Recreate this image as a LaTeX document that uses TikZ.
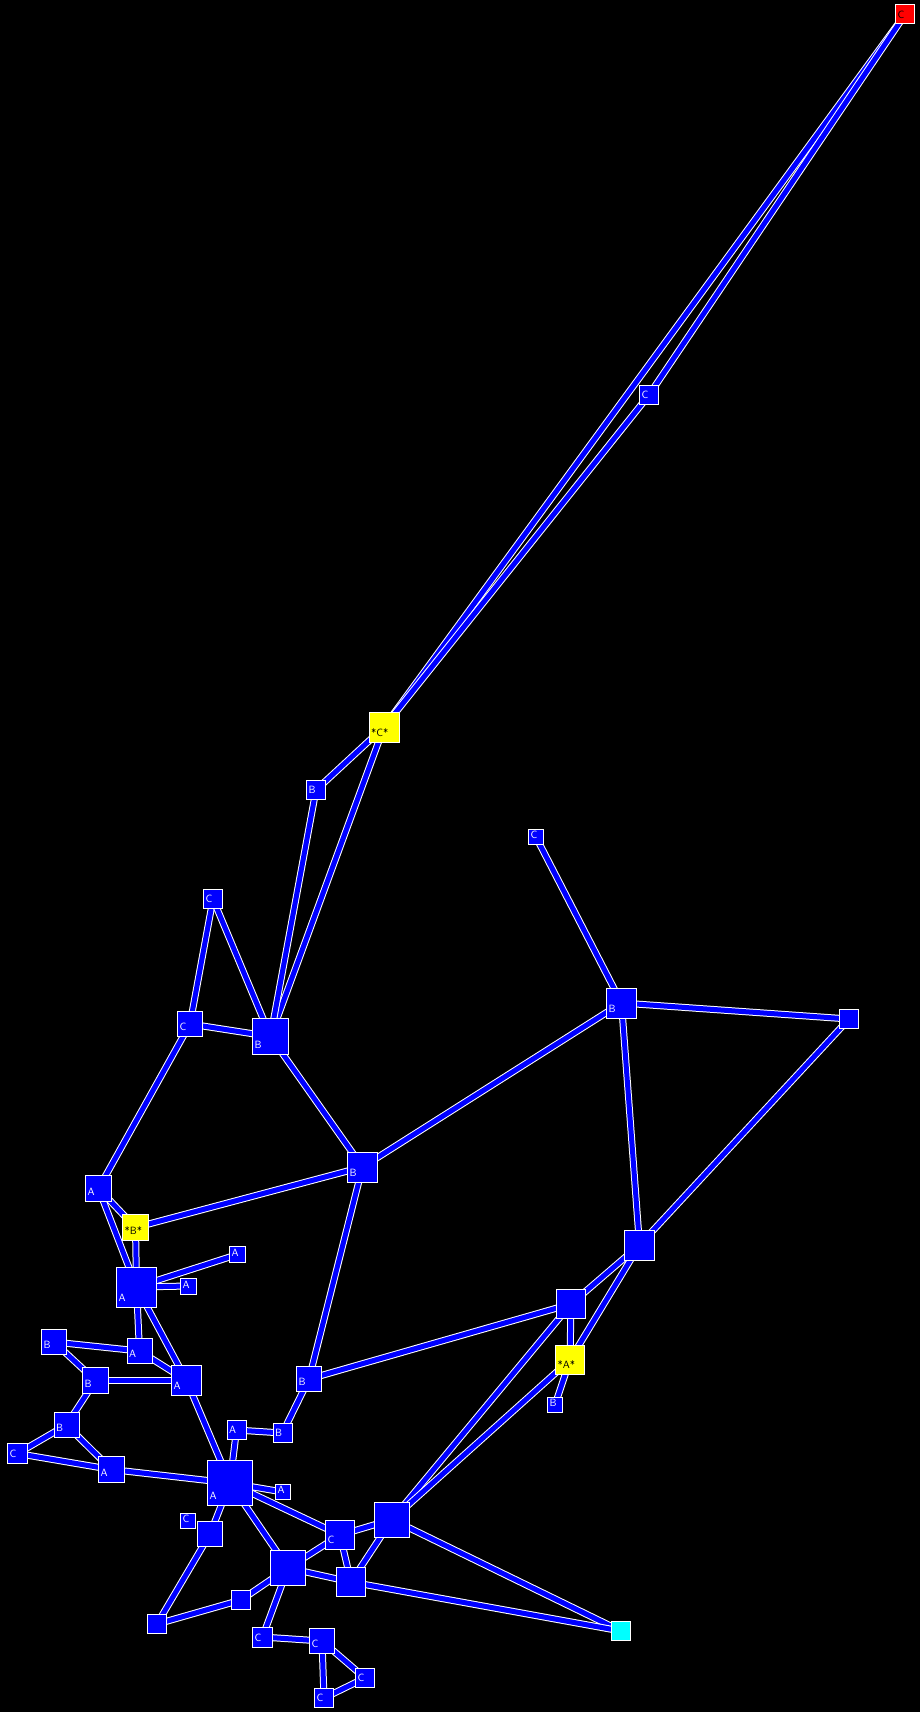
\documentclass[tikz,border=0pt]{standalone}
\usetikzlibrary{backgrounds}
\pgfdeclarelayer{edges}
\pgfsetlayers{background,edges,main}
\definecolor{vblue}{rgb}{0,0,1}
\definecolor{vyellow}{rgb}{1,1,0}
\definecolor{vred}{rgb}{1,0,0}
\definecolor{vcyan}{rgb}{0,1,1}

\begin{document}
\begin{tikzpicture}[x=1pt,y=-1pt,
  vtx/.style={draw=white, fill=vblue, line width=1pt, inner sep=0pt, minimum size=#1},
  tag/.style={anchor=south west, inner sep=0pt, xshift=2.5pt, yshift=6pt, text=white, font=\sffamily\fontsize{10.5}{10.5}\selectfont},
  lab/.style={label={[tag]south west:#1}},
  hot/.style={fill=vyellow, label={[tag,text=black]south west:#1}},
  wire/.style={draw=white, line width=1pt, double=vblue, double distance=5pt}]
\begin{pgfonlayer}{background}
\fill[black] (0,0) rectangle (920,1712);
\end{pgfonlayer}
% top of the tree
\node[vtx=19, fill=vred, label={[tag,text=black]south west:C}] (rc) at (905,14.5) {};
\node[vtx=19, lab=C] (c1) at (649,395) {};
\node[vtx=30, hot=*C*] (yc) at (384,727) {};
\node[vtx=19, lab=B] (b1) at (316,790) {};
\node[vtx=15, lab=C] (c2) at (536,837) {};
\node[vtx=19, lab=C] (c3) at (213,899) {};
\node[vtx=25, lab=C] (c4) at (190,1024) {};
\node[vtx=36, lab=B] (b2) at (270.5,1036.5) {};
\node[vtx=30, lab=B] (b3) at (621.5,1003) {};
\node[vtx=19] (n1) at (849,1019) {};
\node[vtx=30, lab=B] (b4) at (362.5,1167) {};
% left cluster
\node[vtx=26, lab=A] (a1) at (98.5,1188.5) {};
\node[vtx=26, hot=*B*] (yb) at (135.5,1227.5) {};
\node[vtx=16, lab=A] (a2) at (237.5,1254.5) {};
\node[vtx=40, lab=A] (a3) at (136.5,1287) {};
\node[vtx=16, lab=A] (a4) at (188.5,1286) {};
\node[vtx=25, lab=B] (b6) at (54,1342) {};
\node[vtx=25, lab=A] (a5) at (139.5,1351) {};
\node[vtx=26, lab=B] (b7) at (95.5,1380.5) {};
\node[vtx=30, lab=A] (a6) at (186.5,1380.5) {};
\node[vtx=25, lab=B] (b8) at (66.5,1425) {};
\node[vtx=20, lab=C] (c5) at (17.5,1453.5) {};
\node[vtx=26, lab=A] (a7) at (111.5,1469.5) {};
% right side
\node[vtx=30] (n2) at (639.5,1245) {};
\node[vtx=29] (n3) at (571,1304) {};
\node[vtx=29, hot=*A*] (ya) at (570,1360) {};
\node[vtx=15, lab=B] (b5) at (555,1405) {};
% bottom cluster
\node[vtx=19, lab=A] (a8) at (236.5,1430) {};
\node[vtx=19, lab=B] (b9) at (282.5,1433) {};
\node[vtx=25, lab=B] (b10) at (309,1379) {};
\node[vtx=45, lab=A] (a9) at (230,1483) {};
\node[vtx=15, lab=A] (a10) at (283,1492) {};
\node[vtx=15, lab=C] (c6) at (188,1521) {};
\node[vtx=25] (n4) at (210,1534) {};
\node[vtx=29, lab=C] (c7) at (340,1535) {};
\node[vtx=35] (n5) at (392,1519.5) {};
\node[vtx=35] (n6) at (288,1568) {};
\node[vtx=29] (n7) at (351,1582) {};
\node[vtx=19] (n8) at (241,1600) {};
\node[vtx=19] (n9) at (157,1624) {};
\node[vtx=20, lab=C] (c8) at (262.5,1637) {};
\node[vtx=25, lab=C] (c9) at (322,1641) {};
\node[vtx=19, lab=C] (c10) at (365,1678) {};
\node[vtx=19, lab=C] (c11) at (324,1698) {};
\node[vtx=19, fill=vcyan] (cy) at (621,1631) {};
\begin{pgfonlayer}{edges}
\foreach \u/\v in {rc/yc, rc/c1, c1/yc, yc/b1, yc/b2, b1/b2, c3/c4, c3/b2, c4/b2, c4/a1,
  b2/b4, b4/b3, b4/yb, b4/b10, c2/b3, b3/n1, b3/n2, n1/n2, n2/n3, n2/ya, n3/ya, n3/b10,
  n3/n5, ya/b5, ya/n5, a1/yb, a1/a3, yb/a3, a3/a2, a3/a4, a3/a5, a3/a6, a5/b6, a5/a6,
  b6/b7, b7/a6, b7/b8, b8/c5, b8/a7, c5/a7, a7/a9, a6/a9, a8/b9, a8/a9, b9/b10,
  a9/a10, a9/c7, a9/n4, a9/n6, n4/n9, n9/n8, n8/n6, n6/c7, n6/n7, n6/c8, c7/n5, c7/n7,
  n5/n7, n5/cy, n7/cy, c8/c9, c9/c10, c9/c11, c10/c11}
  \draw[wire] (\u.center) -- (\v.center);
\end{pgfonlayer}
\end{tikzpicture}
\end{document}
